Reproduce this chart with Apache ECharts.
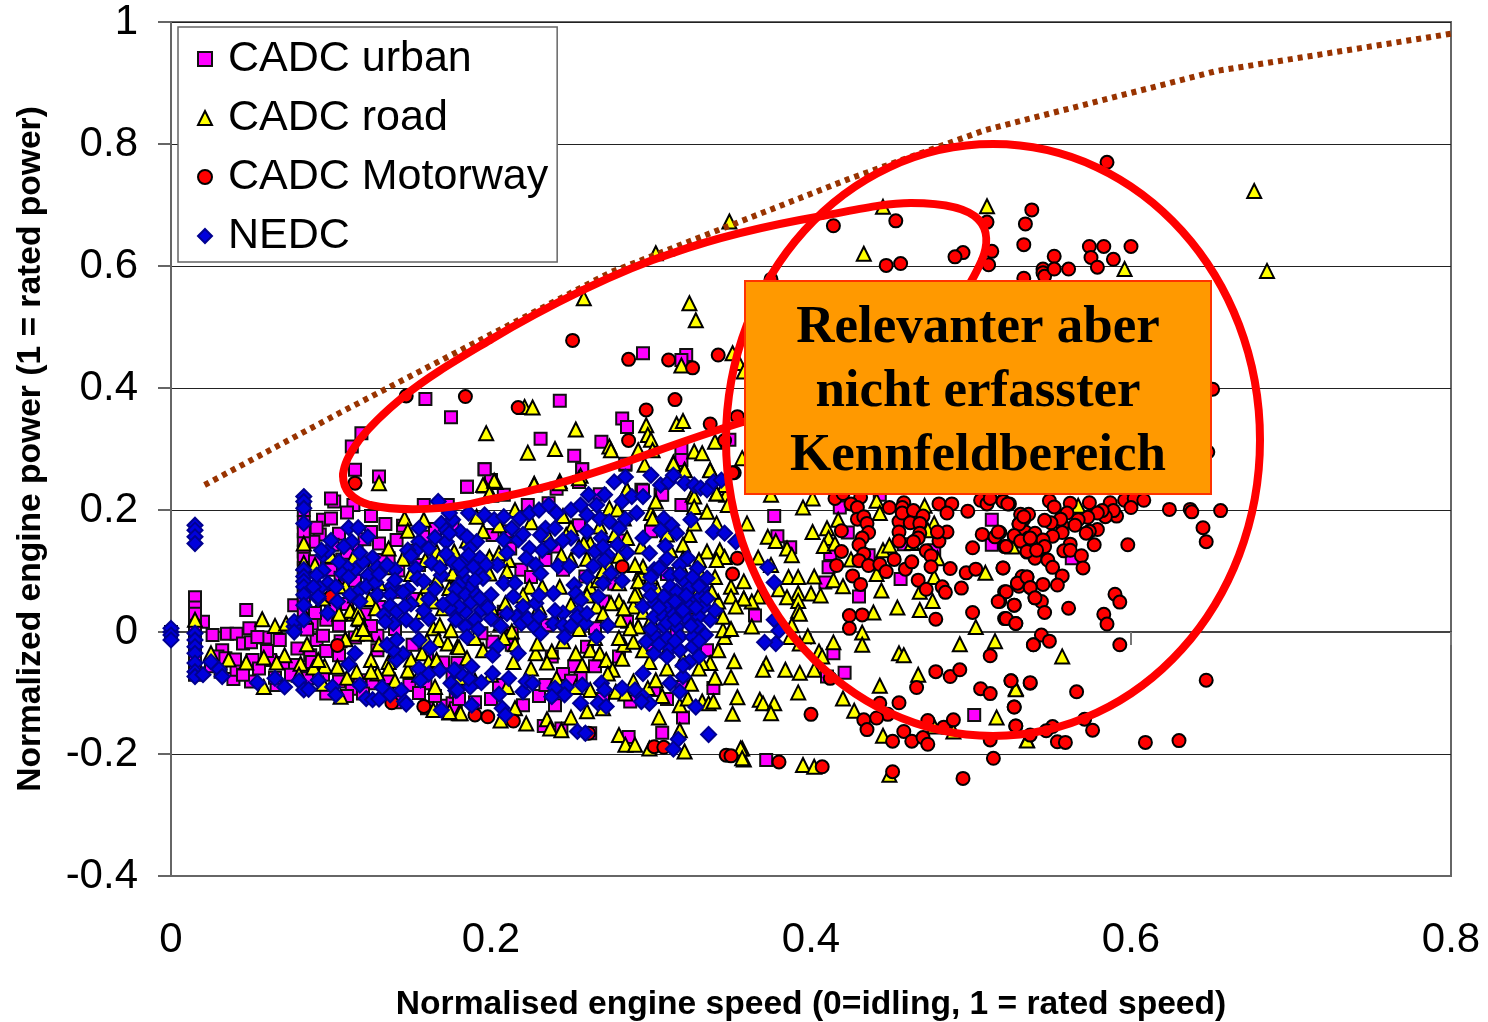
<!DOCTYPE html>
<html>
<head>
<meta charset="utf-8">
<title>Engine map</title>
<script src="https://cdn.jsdelivr.net/npm/echarts@6/dist/echarts.min.js"></script>
<style>
html,body{margin:0;padding:0;background:#fff;overflow:hidden}
#main{width:1488px;height:1022px}
</style>
</head>
<body>
<div id="main"></div>
<script>
var xTicks = {min:0, max:0.8, step:0.2};
var yTicks = {min:-0.4, max:1, step:0.2};

// values: [speed, power]
var urban = [[.377,.19],[.379,.157],[.387,.139],[.412,.128],[.411,.106],[.409,.081],[.43,.058],[.418,.204],[.423,.163],[.458,.144],[.477,.134],[.456,.087],[.513,.184],[.513,.143],[.365,.027],[.414,-.035],[.421,-.067],[.41,-.073],[.502,-.136],[.372,-.21],[.436,.126],[.443,.225],[.563,.121],
[.159,.382],[.175,.352],[.243,.379],[.295,.457],[.322,.454],[.319,.446],[.282,.35],[.285,.336],[.269,.312],[.231,.317],[.252,.289],[.257,.267],[.196,.267],[.185,.238],[.13,.255],[.119,.326],[.113,.304],[.115,.266],[.284,.274],[.319,.301],[.319,.282],[.349,.315],[.208,.225],[.241,.235],[.255,.246],[.294,.233],[.268,.226],[.306,.225],[.2,.249],
[.015,.046],[.015,.057],[.015,.02],[.02,.017],[.026,-.005],[.035,-.003],[.041,-.003],[.047,.036],[.049,.006],[.045,-.019],[.05,-.017],[.059,-.009],[.068,-.013],[.079,-.027],[.091,-.013],[.097,-.031],[.105,.011],[.097,.02],[.039,-.077],[.032,-.03],[.029,-.04],[.051,-.046],[.041,-.062],[.077,-.054],[.05,-.081],[.066,-.087],[.113,-.093],[.097,-.101],[.125,-.081],[.149,-.087],[.136,-.078],[.159,-.084],[.17,-.121],[.176,-.117],[.129,-.006],[.129,-.03],[.102,.214],[.1,.219],[.114,.208],[.095,.184],[.093,.16],[.105,.161],[.134,.177],[.13,.145],[.107,.119],[.101,.143],[.089,.148],[.116,.137],[.083,.132],[.083,.151],[.148,.122],[.136,.121],[.159,.156],[.125,.164],[.077,.044],[.083,.05],[.173,.208],[.158,.208],[.176,.175],[.088,.014],[.105,-.038],[.087,-.038],[.118,-.079],[.126,-.084],[0,-.004],[0,0],[.054,-.008],[.062,-.046],[.034,-.043],[.088,-.049],
[.196,.267],[.185,.238],[.257,.267],[.284,.276],[.223,.208],[.236,.211],[.295,.232],[.307,.225],[.319,.208],[.201,.159],[.219,.102],[.234,.118],[.212,.137],[.245,.102],[.259,.091],[.277,.079],[.208,.033],[.213,-.021],[.201,-.016],[.194,-.002],[.252,-.056],[.265,-.056],[.245,-.069],[.256,-.076],[.339,-.092],[.23,-.105],[.234,-.087],[.205,-.087],[.178,-.098],[.178,-.125],[.233,-.154],[.244,-.158],[.262,-.166],[.287,-.114],[.286,-.172],[.307,-.165],[.302,-.095],[.319,-.09],[.238,-.04],[.265,.006],[.285,.017],[.316,.003],[.26,-.024],[.235,.011],[.179,-.051],[.176,-.073],[.213,-.002],
[.015,.04],[.015,.03],[.015,.01],[.015,0],[.015,-.01],[.015,-.02],[.015,-.03],[.015,-.04],[.015,-.05],[.015,-.06],[.015,-.07],[.083,.2],[.083,.18],[.083,.165],[.083,.12],[.083,.105],[.083,.09],[.083,.07],[.083,.06],[.083,.035],
[.11,.13],[.121,.152],[.131,.118],[.142,.101],[.151,.133],[.1,.102],[.106,.089],[.115,.084],[.09,.116],[.091,.171],[.1,.186],[.11,.196],[.125,.19],[.141,.151],[.145,.174],[.155,.11],[.165,.169],[.17,.121],[.14,.066],[.151,.054],[.13,.041],[.121,.029],[.11,.046],[.1,.04],[.09,.031],[.085,.004],[.095,-.006],[.106,-.015],[.115,-.009],[.125,.01],[.14,.005],[.151,-.021],[.16,-.036],[.17,-.05],[.06,-.031],[.07,-.051],[.055,-.06],[.045,-.07],[.031,-.065],[.025,-.056],[.04,-.045],[.065,-.075],[.075,-.07],[.085,-.076],[.095,-.07],[.105,-.081],[.11,-.105],[.12,-.101],[.135,-.095],[.14,-.115],[.155,-.1],[.16,-.125],[.165,-.105],[.18,-.11],[.19,.055],[.2,.115],[.21,.165],[.225,.09],[.24,.14],[.255,.175],[.27,.05],[.28,.15],[.3,.165],[.31,.095],[.325,.02],[.335,-.03],[.3,-.02],[.28,-.04],[.24,-.12],[.25,-.08],[.27,-.11],[.31,-.11],[.32,-.14],[.22,-.12],[.2,-.11],[.19,-.115]];

var road = [[.395,.204],[.401,.219],[.375,.225],[.441,.215],[.471,.207],[.443,.195],[.417,.184],[.401,.164],[.41,.17],[.373,.156],[.378,.149],[.385,.137],[.388,.126],[.367,.122],[.375,.11],[.411,.154],[.408,.141],[.415,.145],[.445,.134],[.449,.142],[.477,.178],[.473,.167],[.463,.146],[.479,.121],[.425,.119],[.386,.09],[.392,.09],[.402,.091],[.414,.085],[.42,.075],[.38,.07],[.392,.064],[.4,.063],[.406,.06],[.385,.057],[.367,.058],[.358,.055],[.363,.05],[.392,.051],[.392,.035],[.393,.03],[.388,.011],[.441,.095],[.444,.068],[.477,.09],[.468,.066],[.476,.051],[.509,.097],[.439,.032],[.454,.04],[.468,.036],[.432,-.001],[.432,-.021],[.503,.008],[.398,-.007],[.414,-.017],[.387,-.008],[.393,-.019],[.405,-.032],[.407,-.04],[.493,-.02],[.515,-.015],[.455,-.035],[.458,-.038],[.372,-.052],[.37,-.062],[.384,-.062],[.393,-.067],[.402,-.062],[.467,-.07],[.443,-.088],[.392,-.099],[.42,-.109],[.368,-.111],[.37,-.117],[.377,-.117],[.375,-.133],[.427,-.129],[.516,-.14],[.528,-.092],[.445,-.17],[.357,-.191],[.358,-.209],[.395,-.218],[.402,-.221],[.449,-.234],[.489,-.163],[.535,-.177],[.477,-.155],[.363,.009],
[.557,-.04],[.528,-.094],[.535,-.178],[.526,.14],[.567,.207],
[.51,.698],[.433,.62],[.445,.697],[.596,.595],[.677,.723],[.685,.592],
[.349,.673],[.303,.621],[.258,.547],[.324,.539],[.328,.511],[.351,.457],[.355,.441],[.358,.427],[.319,.437],[.221,.369],[.226,.368],[.316,.341],[.32,.346],[.297,.339],[.298,.323],[.3,.315],[.197,.326],[.253,.332],[.223,.294],[.24,.3],[.274,.304],[.275,.298],[.301,.298],[.292,.298],[.327,.296],[.332,.293],[.314,.278],[.321,.266],[.337,.266],[.34,.312],[.357,.285],[.296,.274],[.227,.243],[.243,.247],[.196,.24],[.203,.246],[.13,.244],[.256,.256],[.285,.233],[.326,.225],[.341,.227],[.347,.225],[.2,.225],
[.015,.02],[.057,.021],[.065,.01],[.072,.014],[.084,.025],[.114,.03],[.118,.021],[.112,.035],[.117,.033],[.124,.054],[.128,.039],[.109,.075],[.083,.145],[.083,.113],[.114,.122],[.146,.186],[.158,.184],[.148,.166],[.136,.137],[.135,.106],[.159,.118],[.166,.132],[.177,.132],[.168,.121],[.176,.096],[.176,.072],[.166,.084],[.157,.033],[.17,.039],[.156,.054],[.117,.022],[.116,-.003],[.122,-.003],[.109,-.012],[.164,.006],[.168,.011],[.167,-.013],[.173,-.019],[.179,-.024],[.175,.003],[.157,-.035],[.161,-.049],[.166,-.046],[.125,-.046],[.136,-.049],[.136,-.06],[.148,-.063],[.129,-.068],[.116,-.065],[.104,-.057],[.096,-.056],[.089,-.058],[.092,-.046],[.081,-.052],[.071,-.038],[.066,-.05],[.058,-.042],[.047,-.05],[.036,-.045],[.025,-.035],[.058,-.09],[.106,-.106],[.164,-.128],[.174,-.132],[.18,-.133],
[.195,.241],[.202,.248],[.199,.227],[.227,.242],[.243,.244],[.255,.252],[.285,.233],[.314,.276],[.321,.265],[.337,.265],[.346,.241],[.274,.203],[.279,.201],[.3,.195],[.303,.214],[.327,.222],[.335,.197],[.341,.227],[.348,.208],[.327,.205],[.191,.189],[.25,.17],[.247,.159],[.268,.173],[.277,.159],[.285,.154],[.294,.14],[.262,.146],[.283,.186],[.301,.186],[.324,.159],[.327,.178],[.341,.178],[.36,.178],[.335,.132],[.343,.134],[.346,.123],[.32,.143],[.312,.134],[.33,.118],[.341,.118],[.358,.083],[.35,.074],[.35,.058],[.358,.055],[.353,.042],[.342,.05],[.338,.066],[.34,.028],[.346,-.008],[.345,.003],[.342,-.03],[.352,-.048],[.35,-.074],[.354,-.107],[.351,-.134],[.337,-.051],[.332,-.051],[.299,-.049],[.282,-.044],[.283,-.021],[.28,-.01],[.289,-.016],[.28,.05],[.292,.009],[.287,.006],[.281,.02],[.253,-.035],[.262,-.03],[.268,-.035],[.272,-.046],[.257,-.054],[.276,-.062],[.273,-.068],[.238,-.032],[.228,-.035],[.229,-.019],[.213,.001],[.208,-.01],[.214,-.049],[.206,.014],[.19,-.01],[.18,-.025],[.185,-.043],[.209,.047],[.262,-.095],[.253,-.09],[.241,-.076],[.278,-.098],[.284,-.101],[.289,-.081],[.298,-.092],[.303,-.079],[.307,-.105],[.318,-.12],[.323,-.109],[.332,-.114],[.336,-.117],[.339,-.114],[.181,-.133],[.174,-.131],[.206,-.145],[.215,-.125],[.222,-.15],[.235,-.143],[.237,-.158],[.244,-.161],[.28,-.169],[.284,-.185],[.29,-.185],[.318,-.161],[.321,-.196],[.299,-.191],[.356,-.191],[.357,-.207],
[.266,.042],[.262,.074],[.267,.085],[.243,.074],[.232,.074],[.224,.074],[.211,.118],[.199,.123],[.205,.129],[.199,.096],[.181,.096],[.176,.096],[.174,.072],[.291,.066],[.293,.096],[.295,.107],[.289,.042],[.283,.039],[.275,.047],[.258,.145],[.244,.126],[.25,.118],[.274,.107],[.304,.069],[.295,.033],[.292,.083],[.3,.091],
[.09,.11],[.1,.125],[.105,.075],[.115,.06],[.125,.105],[.13,.08],[.145,.12],[.15,.095],[.16,.075],[.165,.05],[.095,.055],[.105,.03],[.12,.005],[.13,-.02],[.14,-.035],[.15,-.045],[.16,-.015],[.085,-.02],[.08,-.07],[.095,-.085],[.11,-.075],[.125,-.065],[.14,-.08],[.155,-.07],[.165,-.09],[.18,-.075],[.19,-.08],[.2,-.07],[.21,-.09],[.185,.15],[.195,.165],[.205,.175],[.215,.2],[.225,.18],[.235,.16],[.245,.19],[.255,.14],[.26,.12],[.27,.1],[.28,.125],[.29,.11],[.31,.16],[.32,.12],[.33,.1],[.34,.09],[.19,.07],[.2,.04],[.21,.1],[.22,.06],[.23,.04],[.24,.02],[.25,.045],[.26,.06],[.27,.03],[.28,.08],[.29,.06],[.3,.02],[.31,.07],[.32,.1],[.33,.07],[.345,.025],[.35,.005],[.3,-.01],[.31,-.03],[.32,-.045],[.33,-.06],[.295,-.03],[.265,-.01],[.255,.005],[.245,-.015],[.235,-.05],[.225,-.06],[.215,-.02],[.195,-.03],[.31,-.06],[.325,-.085],[.34,-.075],[.305,-.14],[.27,-.125],[.26,-.13],[.25,-.14]];

var motorway = [[.52,.215],[.524,.21],[.549,.215],[.552,.205],[.562,.211],[.574,.212],[.587,.212],[.596,.216],[.602,.219],[.608,.216],[.6,.204],[.624,.201],[.637,.201],[.638,.197],[.656,.199],[.645,.171],[.647,.148],[.598,.143],[.577,.143],[.579,.168],[.574,.165],[.572,.162],[.591,.19],[.589,.199],[.584,.189],[.582,.199],[.579,.195],[.573,.188],[.567,.184],[.565,.175],[.56,.195],[.557,.175],[.556,.185],[.557,.163],[.551,.157],[.55,.179],[.546,.183],[.536,.193],[.531,.193],[.533,.185],[.53,.177],[.527,.157],[.534,.164],[.54,.162],[.536,.154],[.531,.149],[.545,.151],[.521,.14],[.518,.163],[.535,.131],[.542,.134],[.546,.14],[.54,.121],[.548,.118],[.551,.106],[.557,.092],[.554,.077],[.545,.078],[.535,.09],[.532,.091],[.529,.08],[.53,.075],[.537,.073],[.521,.066],[.54,.056],[.544,.05],[.546,.032],[.527,.044],[.518,.05],[.521,.022],[.528,.014],[.561,.039],[.562,.144],[.558,.133],[.562,.134],[.569,.125],[.57,.105],[.52,.105],[.59,.062],[.593,.049],[.583,.029],[.585,.013],[.544,-.005],[.549,-.015],[.539,-.021],[.593,-.021],[.525,-.08],[.537,-.084],[.566,-.098],[.527,-.123],[.571,-.143],[.528,-.154],[.551,-.155],[.547,-.162],[.537,-.169],[.576,-.161],[.554,-.18],[.559,-.181],[.609,-.181],[.63,-.178],[.647,-.079],
[.415,.219],[.42,.227],[.431,.221],[.425,.21],[.429,.204],[.449,.204],[.458,.212],[.457,.204],[.48,.21],[.488,.21],[.485,.195],[.498,.198],[.506,.216],[.51,.21],[.512,.219],[.52,.214],[.523,.21],[.429,.185],[.433,.189],[.435,.178],[.419,.166],[.436,.163],[.432,.154],[.43,.143],[.455,.181],[.457,.195],[.464,.199],[.462,.179],[.47,.19],[.468,.178],[.455,.164],[.468,.162],[.467,.154],[.464,.148],[.455,.149],[.48,.149],[.485,.164],[.479,.164],[.472,.133],[.475,.125],[.501,.138],[.507,.16],[.515,.156],[.517,.164],[.522,.14],[.53,.177],[.533,.189],[.527,.158],[.531,.149],[.537,.154],[.535,.132],[.541,.134],[.487,.104],[.497,.097],[.503,.103],[.52,.105],[.419,.132],[.433,.128],[.43,.117],[.436,.109],[.443,.111],[.447,.099],[.452,.119],[.459,.103],[.463,.115],[.475,.107],[.416,.109],[.426,.092],[.431,.078],[.467,.085],[.472,.07],[.482,.074],[.484,.065],[.494,.072],[.529,.08],[.535,.09],[.537,.073],[.522,.066],[.517,.05],[.527,.044],[.54,.056],[.522,.022],[.528,.014],[.501,.032],[.478,.021],[.424,.027],[.432,.028],[.424,.006],[.539,-.021],[.512,-.039],[.478,-.065],[.487,-.073],[.493,-.062],[.466,-.091],[.506,-.093],[.512,-.101],[.525,-.08],[.537,-.083],[.4,-.135],[.443,-.117],[.455,-.116],[.448,-.135],[.441,-.141],[.433,-.144],[.435,-.16],[.458,-.163],[.451,-.179],[.463,-.179],[.47,-.173],[.473,-.184],[.473,-.145],[.483,-.156],[.489,-.144],[.527,-.123],[.528,-.154],[.512,-.177],[.514,-.207],[.495,-.24],[.451,-.229],[.407,-.221],[.38,-.213],[.412,-.076],
[.585,.77],[.414,.666],[.453,.674],[.51,.672],[.538,.692],[.534,.669],[.533,.635],[.513,.624],[.511,.602],[.495,.622],[.49,.615],[.447,.601],[.456,.604],[.375,.578],[.533,.58],[.545,.595],[.545,.589],[.546,.583],[.552,.616],[.552,.595],[.561,.595],[.574,.632],[.575,.614],[.579,.598],[.583,.632],[.589,.611],[.6,.632],[.44,.554],[.486,.557],[.544,.554],[.57,.563],
[.251,.478],[.286,.447],[.311,.446],[.326,.433],[.342,.454],[.147,.387],[.184,.386],[.217,.368],[.315,.381],[.297,.364],[.286,.314],[.337,.341],[.354,.353],[.346,.314],[.352,.261],[.115,.244],[.651,.398],[.648,.295],
[.104,-.022],[.138,-.116],[.158,-.122],[.1,.058],[.282,.107],[.354,.121],[.351,.095],[.351,.261],[.19,-.136],[.198,-.139],[.214,-.146],[.261,-.166],[.302,-.188],[.308,-.189],[.347,-.202],[.35,-.203]];

var nedc = [[.015,.175],[.015,.167],[.015,.156],[.015,.145],[0,0],[0,.006],[0,-.005],[0,-.013],[.015,-.002],[.015,-.013],[.015,-.024],[.015,-.035],[.015,-.051],[.015,-.065],[.015,-.073],[.083,.222],[.083,.214],[.083,.203],[.083,.178],[.083,.102],[.083,.091],[.083,.083],[.083,.074],[.083,.061],[.083,.044],[.077,.009],[.077,.017],[.083,.02],[.077,0],
[.02,-.07],[.025,-.049],[.03,-.061],[.032,-.073],[.054,-.083],[.065,-.076],[.071,-.09],[.08,-.08],[.083,-.095],[.086,-.094],[.092,-.079],[.101,-.09],[.103,-.103],[.118,-.087],[.132,-.091],[.122,-.109],[.126,-.111],[.13,-.11],[.137,-.103],[.144,-.096],[.146,-.114],[.147,-.118],[.169,-.128],[.111,-.053],[.115,-.035],[.145,-.036],[.141,-.046],[.139,-.03],[.135,-.021],[.141,-.013],[.155,-.013],[.162,-.026],[.155,-.06],[.161,-.069],[.168,-.063],[.156,-.079],[.178,-.063],[.175,-.084],[.178,-.096],
[.098,.031],[.104,.05],[.092,.055],[.111,.171],[.117,.171],[.123,.156],[.113,.148],[.095,.126],[.098,.133],[.094,.134],[.126,.122],[.129,.106],[.14,.102],[.123,.093],[.115,.102],[.11,.106],[.107,.096],[.111,.09],[.095,.101],[.091,.093],[.098,.08],[.093,.072],[.089,.074],[.103,.074],[.092,.058],[.112,.061],[.118,.069],[.122,.075],[.128,.081],[.118,.05],[.129,.061],[.138,.075],[.137,.061],[.148,.07],[.153,.104],[.154,.088],[.158,.083],[.161,.054],[.15,.046],[.137,.043],[.141,.033],[.146,.042],[.133,.028],[.139,.014],[.147,.02],[.153,.011],[.161,.022],[.134,.017],[.155,.148],[.153,.133],[.148,.134],[.161,.137],[.163,.113],[.169,.093],[.176,.115],[.169,.178],[.176,.184],[.172,.167],[.172,.148],[.178,.031],[.167,.214],
[.174,.195],[.186,.195],[.196,.192],[.202,.184],[.208,.189],[.218,.186],[.224,.195],[.23,.2],[.236,.208],[.241,.195],[.25,.2],[.256,.208],[.261,.225],[.266,.208],[.271,.225],[.277,.246],[.284,.254],[.282,.214],[.288,.222],[.295,.222],[.3,.257],[.306,.241],[.311,.246],[.314,.257],[.321,.244],[.327,.241],[.331,.236],[.335,.233],[.339,.246],[.344,.249],[.26,.192],[.268,.186],[.274,.181],[.284,.185],[.291,.195],[.308,.186],[.313,.175],[.306,.167],[.325,.184],[.316,.162],[.339,.164],[.346,.162],[.353,.148],
[.213,.17],[.217,.151],[.234,.17],[.231,.159],[.237,.143],[.224,.137],[.232,.134],[.208,.151],[.191,.148],[.181,.164],[.185,.156],[.174,.162],[.25,.154],[.255,.134],[.269,.154],[.265,.132],[.279,.143],[.273,.126],[.271,.118],[.295,.154],[.309,.141],[.299,.129],
[.242,.108],[.249,.108],[.264,.108],[.228,.11],[.231,.096],[.222,.121],[.204,.11],[.193,.121],[.192,.102],[.187,.137],[.184,.118],[.189,.107],[.183,.088],[.195,.088],[.187,.074],[.18,.077],[.184,.061],[.191,.061],[.187,.047],[.194,.036],[.2,.022],[.184,.033],[.18,.042],[.184,.009],[.185,-.008],[.174,.039],[.2,.061],[.208,.08],[.215,.08],[.214,.058],[.22,.042],[.228,.047],[.239,.063],[.216,.025],[.219,.014],[.227,.009],[.223,.022],[.23,.025],[.231,-.002],[.239,.014],[.245,.031],[.245,.011],[.246,-.008],[.252,.077],[.253,.063],[.256,.052],[.255,.033],[.259,.014],[.254,.025],[.267,.058],[.273,.011],[.266,-.008],[.275,.096],[.282,.084],[.299,.072],[.302,.102],[.312,.093],[.318,.11],[.323,.121],[.329,.104],[.335,.088],[.312,.074],[.32,.085],[.324,.072],[.332,.072],[.308,.058],[.316,.066],[.324,.052],[.331,.058],[.295,.042],[.302,.047],[.31,.039],[.317,.042],[.324,.042],[.333,.042],[.302,.025],[.308,.025],[.314,.028],[.321,.025],[.33,.025],[.337,.02],[.308,.009],[.316,.009],[.329,.009],[.302,-.005],[.297,-.016],[.31,-.01],[.318,-.008],[.334,-.005],[.326,-.008],[.302,-.035],[.312,-.027],[.318,-.03],[.326,-.024],[.324,-.049],[.295,-.068],[.312,-.084],[.32,-.073],[.318,-.098],[.269,-.084],[.271,-.095],[.257,-.087],[.247,-.09],[.24,-.092],[.246,-.103],[.238,-.106],[.22,-.098],[.222,-.081],[.226,-.084],[.211,-.076],[.201,-.068],[.194,-.083],[.187,-.09],[.186,-.076],[.181,-.068],[.177,-.062],[.188,-.057],[.205,-.102],[.179,-.095],[.282,-.092],[.29,-.095],[.295,-.106],[.299,-.117],[.294,-.114],[.256,-.117],[.267,-.117],[.272,-.122],[.328,-.123],[.188,-.12],[.207,-.125],[.209,-.136],[.254,-.163],[.259,-.166],[.317,-.176],[.314,-.192],[.336,-.168],[.217,-.035],[.204,-.024],[.201,-.038],
[.373,.106],[.377,.081],[.377,.02],[.38,.002],[.378,-.019],[.371,-.017],
[.178,.07],[.182,.1],[.186,.126],[.19,.085],[.193,.055],[.197,.11],[.176,.055],[.178,.02],[.19,.02],[.192,.005],[.198,.04],[.18,.11],[.172,.128],[.168,.105],[.165,.07],[.17,.045],[.158,.035],[.145,.065],[.14,.085],[.13,.095],[.12,.115],[.105,.115],[.1,.15],[.108,.14],[.118,.13],[.135,.11],[.15,.125],[.155,.17],[.165,.155],[.3,.09],[.305,.105],[.31,.12],[.315,.05],[.318,.095],[.322,.06],[.326,.09],[.328,.04],[.33,.075],[.335,.055],[.34,.035],[.3,.06],[.305,.04],[.31,.015],[.315,.02],[.32,.035],[.325,.01],[.33,-.015],[.315,-.015],[.305,-.02],[.3,.005],[.31,-.04],[.32,-.055],[.33,-.04],[.24,.17],[.245,.15],[.26,.165],[.27,.14],[.28,.17],[.285,.13],[.22,.16],[.21,.13],[.27,.08],[.26,.09],[.26,.03],[.25,.01],[.24,.035],[.23,.06],[.21,.03],[.206,.01]];

var fullLoad = [[.021,.241],[.106,.36],[.275,.59],[.423,.742],[.509,.823],[.654,.92],[.803,.982]];

// freehand loop round the upper left points, bezier pieces in page pixels
var loopPieces = [
	[343,475, 345,450, 375,420, 403,397],
	[403,397, 430,375, 460,358, 490,340],
	[490,340, 520,322, 550,306, 583,290],
	[583,290, 612,276, 642,263, 673,253],
	[673,253, 715,238, 770,225, 822,216],
	[822,216, 860,209, 885,203, 911,203],
	[911,203, 945,203, 968,208, 979,220],
	[979,220, 988,230, 988,245, 982,260],
	[982,260, 975,275, 969,287, 955,305],
	[955,305, 900,370, 830,395, 743,422],
	[743,422, 700,435, 660,450, 623,463],
	[623,463, 580,478, 530,492, 487,500],
	[487,500, 450,510, 400,512, 370,505],
	[370,505, 352,500, 343,490, 343,475]
];

var sans = '"Liberation Sans", Arial, sans-serif';

function markSeries(name, data, symbol, size, fill, border){
	return {
		name: name,
		type: 'scatter',
		data: data,
		symbol: symbol,
		symbolSize: size,
		itemStyle: {color: fill, borderColor: border, borderWidth: 2, opacity: 1},
		emphasis: {disabled: true}
	};
}

var loopElements = loopPieces.map(function (p) {
	return {
		type: 'bezierCurve', z: 20,
		shape: {x1: p[0], y1: p[1], cpx1: p[2], cpy1: p[3], cpx2: p[4], cpy2: p[5], x2: p[6], y2: p[7]},
		style: {fill: 'none', stroke: '#FF0000', lineWidth: 8, lineCap: 'round'}
	};
});

var option = {
	animation: false,
	backgroundColor: '#fff',
	grid: {left: 171, top: 22, width: 1280, height: 854, show: true, borderColor: '#666', borderWidth: 2, backgroundColor: 'transparent', outerBoundsMode: 'none'},
	legend: {
		left: 178, top: 27, orient: 'vertical',
		data: ['CADC urban', 'CADC road', 'CADC Motorway', 'NEDC'],
		itemWidth: 14, itemHeight: 14, itemGap: 11,
		padding: [8, 9, 2, 19],
		backgroundColor: '#fff', borderColor: '#666', borderWidth: 1.5, borderRadius: 0,
		textStyle: {fontFamily: sans, fontSize: 43, lineHeight: 43, color: '#000', padding: [5, 0, 0, 11]}
	},
	xAxis: [{
		type: 'value', min: xTicks.min, max: xTicks.max, interval: xTicks.step,
		position: 'bottom',
		name: 'Normalised engine speed (0=idling, 1 = rated speed)',
		nameLocation: 'middle', nameGap: 112,
		nameTextStyle: {fontFamily: sans, fontSize: 33.6, fontWeight: 'bold', color: '#000'},
		axisLine: {onZero: false, show: true, lineStyle: {color: '#666', width: 2}},
		axisTick: {show: false},
		axisLabel: {fontFamily: sans, fontSize: 42, color: '#000', margin: 43, showMaxLabel: true, hideOverlap: false},
		splitLine: {show: false}
	}, {
		// the axis itself crosses at zero, its ticks peek out between the marks
		type: 'value', min: xTicks.min, max: xTicks.max, interval: xTicks.step,
		position: 'bottom',
		axisLine: {onZero: true, show: true, lineStyle: {color: '#444', width: 2}},
		axisTick: {show: true, length: 13, lineStyle: {color: '#777', width: 2}},
		axisLabel: {show: false},
		splitLine: {show: false}
	}],
	yAxis: {
		type: 'value', min: yTicks.min, max: yTicks.max, interval: yTicks.step,
		name: 'Normalized engine power (1 = rated power)',
		nameLocation: 'middle', nameGap: 123,
		nameTextStyle: {fontFamily: sans, fontSize: 33.6, fontWeight: 'bold', color: '#000'},
		axisLine: {show: true, lineStyle: {color: '#666', width: 2}},
		axisTick: {show: true, length: 13, lineStyle: {color: '#666', width: 2}},
		axisLabel: {fontFamily: sans, fontSize: 42, color: '#000', margin: 33, padding: [4, 0, 0, 0]},
		splitLine: {show: true, lineStyle: {color: '#222', width: 1}}
	},
	series: [
		markSeries('CADC urban', urban, 'rect', 12, '#FF00FF', '#111'),
		markSeries('CADC road', road, 'triangle', 14, '#FFFF00', '#000'),
		markSeries('CADC Motorway', motorway, 'circle', 13, '#FF0000', '#000'),
		markSeries('NEDC', nedc, 'diamond', 15, '#0000DD', '#000090'),
		{
			name: 'Full load', type: 'line', data: fullLoad, showSymbol: false, clip: false,
			lineStyle: {color: '#993300', width: 6, type: [5, 5]}, z: 3, emphasis: {disabled: true}
		}
	],
	graphic: [
		{
			type: 'ellipse', z: 20,
			shape: {cx: 993, cy: 440, rx: 267, ry: 296},
			style: {fill: 'none', stroke: '#FF0000', lineWidth: 8}
		}
	].concat(loopElements, [
		{
			type: 'rect', z: 21,
			shape: {x: 745, y: 281, width: 466, height: 213},
			style: {fill: '#FF9900', stroke: '#FF3300', lineWidth: 2}
		},
		{
			type: 'text', z: 22, x: 978, y: 392,
			style: {
				text: 'Relevanter aber\nnicht erfasster\nKennfeldbereich',
				x: 0, y: 0, align: 'center', verticalAlign: 'middle',
				font: 'bold 53px "Liberation Serif", serif', lineHeight: 64, fill: '#000'
			}
		}
	])
};

var chart = echarts.init(document.getElementById('main'));
chart.setOption(option);
</script>
</body>
</html>
